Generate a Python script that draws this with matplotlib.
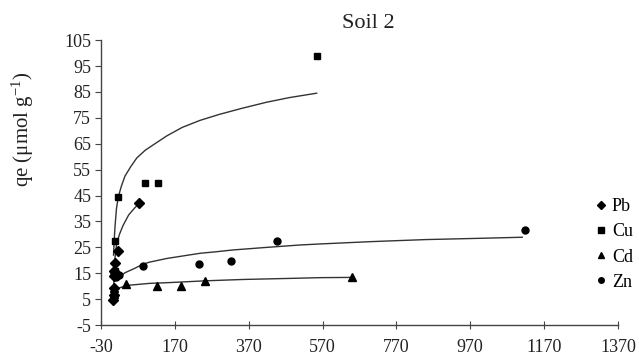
import matplotlib
matplotlib.use("Agg")
import matplotlib.pyplot as plt

plt.rcParams['font.family'] = ['Liberation Serif', 'DejaVu Serif']
plt.rcParams['mathtext.fontset'] = 'custom'
plt.rcParams['mathtext.rm'] = 'Liberation Serif'
plt.rcParams['mathtext.it'] = 'Liberation Serif:italic'
plt.rcParams['axes.unicode_minus'] = False

# measured points (Ce, qe)
pb_x = [3, 4, 5, 6, 6, 7, 15, 73]
pb_y = [4.5, 6.5, 9.5, 14, 16, 19, 23.5, 42]
cu_x = [7, 8, 15, 89, 124, 554]
cu_y = [16, 27.5, 44.5, 50, 50, 99]
cd_x = [5, 6, 39, 122, 188, 251, 649]
cd_y = [7, 9.5, 10.8, 10.2, 10, 12.2, 13.6]
zn_x = [6, 10, 19, 84, 235, 321, 447, 1118]
zn_y = [15, 13.5, 14.3, 17.8, 18.4, 19.8, 27.4, 31.7]

# fitted curves
cu_fx = [4, 6, 8, 12, 17, 25, 35, 50, 67, 90, 111, 148, 190, 238, 290, 350, 418, 480, 554]
cu_fy = [22, 28, 33, 40, 44.5, 48.5, 52.5, 56, 59.5, 62.5, 64.5, 68, 71.3, 74, 76.3, 78.6, 81, 82.8, 84.5]
pb_fx = [4, 6, 8, 12, 20, 30, 45, 60, 73]
pb_fy = [8, 15, 21, 26, 30, 33.5, 37.5, 40, 42]
zn_fx = [8, 17, 35, 60, 84, 102, 148, 238, 282, 328, 420, 508, 562, 700, 850, 1000, 1111]
zn_fy = [13, 13.2, 15.2, 16.8, 18.5, 19.3, 20.7, 22.7, 23.3, 24, 25, 25.9, 26.3, 27.2, 28, 28.5, 28.9]
cd_fx = [8, 17, 40, 102, 156, 256, 355, 508, 562, 649]
cd_fy = [8.5, 9.2, 10.3, 11.1, 11.4, 12.1, 12.6, 13.1, 13.3, 13.4]

x_ticks = [-30, 170, 370, 570, 770, 970, 1170, 1370]
y_ticks = [-5, 5, 15, 25, 35, 45, 55, 65, 75, 85, 95, 105]

fig = plt.figure(figsize=(6.39, 3.58), dpi=100)
ax = fig.add_axes([0.158, 0.092, 0.809, 0.796])

lc = '#333333'
for fx, fy in [(cu_fx, cu_fy), (pb_fx, pb_fy), (zn_fx, zn_fy), (cd_fx, cd_fy)]:
    ax.plot(fx, fy, '-', color=lc, linewidth=1.0)

ax.plot(pb_x, pb_y, 'D', color='black', markersize=5, linestyle='none', label='Pb')
ax.plot(cu_x, cu_y, 's', color='black', markersize=5, linestyle='none', label='Cu')
ax.plot(cd_x, cd_y, '^', color='black', markersize=5.5, linestyle='none', label='Cd')
ax.plot(zn_x, zn_y, 'o', color='black', markersize=5, linestyle='none', label='Zn')

ax.set_xlim(-30, 1370)
ax.set_ylim(-5, 105)
ax.set_xticks(x_ticks)
ax.set_yticks(y_ticks)
ax.spines['top'].set_visible(False)
ax.spines['right'].set_visible(False)
for s in ['left', 'bottom']:
    ax.spines[s].set_color('#444444')
    ax.spines[s].set_linewidth(1.0)
ax.tick_params(axis='y', direction='out', length=4, color='#444444', labelsize=13, pad=3,
               labelcolor='#222222')
ax.tick_params(axis='x', direction='inout', length=6, color='#444444', labelsize=13, pad=7,
               labelcolor='#222222')

fig.text(0.577, 0.935, 'Soil 2', ha='center', va='center', fontsize=16, color='#222222')
fig.text(0.036, 0.64, r'qe ($\mathrm{\mu}$mol g$^{\mathrm{-1}}$)', rotation=90,
         ha='center', va='center', fontsize=15, color='#222222')

ax.legend(loc='center left', bbox_to_anchor=(0.918, 0.317), bbox_transform=fig.transFigure,
          frameon=False, fontsize=13, handlelength=0.6, handletextpad=0.3,
          labelspacing=0.45, borderpad=0, markerscale=0.8)

fig.savefig('out.png', dpi=100)
